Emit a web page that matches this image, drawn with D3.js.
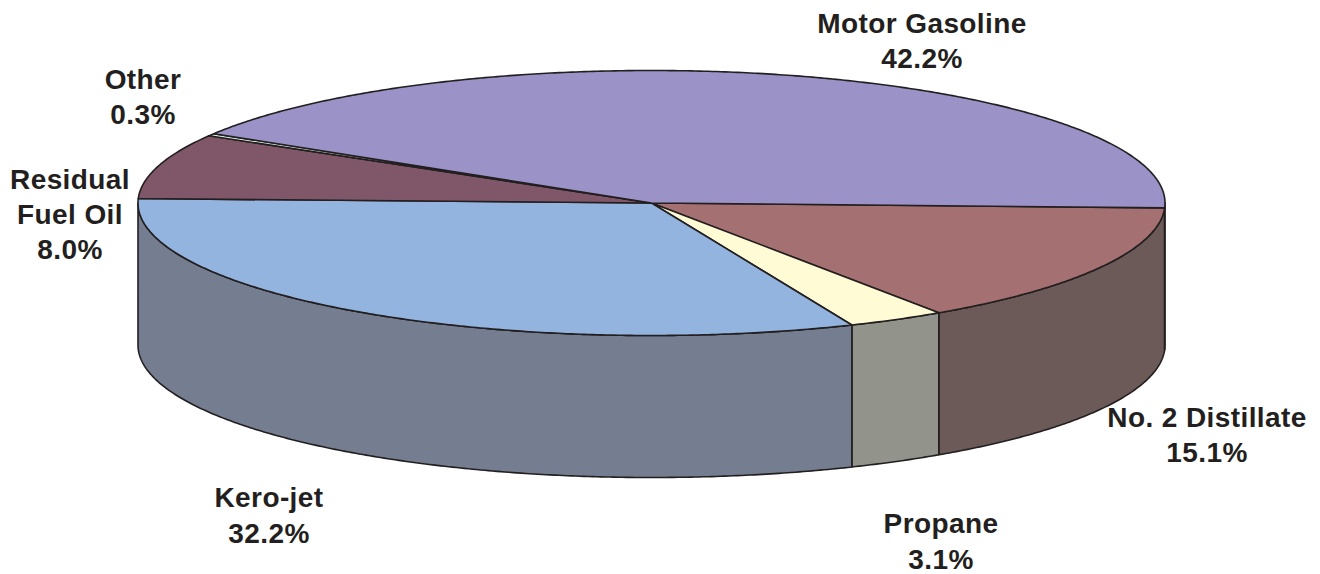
<!DOCTYPE html>
<html>
<head>
<meta charset="utf-8">
<script src="https://cdn.jsdelivr.net/npm/d3@7"></script>
<style>
  html, body { margin: 0; padding: 0; background: #fff; overflow: hidden; }
  text { font-family: "Liberation Sans", Arial, sans-serif; font-weight: bold; font-size: 28px; letter-spacing: 0.4px; fill: #231f20; text-anchor: middle; }
</style>
</head>
<body>
<div id="vis"></div>
<script>
// Values, in drawing order (clockwise from the right edge of the pie)
const CATEGORIES = ['No. 2 Distillate', 'Propane', 'Kero-jet', 'Residual Fuel Oil', 'Other', 'Motor Gasoline'];
const VALUES = [15.1, 3.1, 32.2, 8.0, 0.3, 42.2];
const VALUE_LABELS = ['15.1%', '3.1%', '32.2%', '8.0%', '0.3%', '42.2%'];
const LABEL_LINES = [['No. 2 Distillate'], ['Propane'], ['Kero-jet'], ['Residual', 'Fuel Oil'], ['Other'], ['Motor Gasoline']];

const TOP_COLORS = ['#a57072', '#fffbd5', '#93b4df', '#805768', '#d8f0dc', '#9b92c8'];
const SIDE_COLORS = ['#6c5a59', '#92938a', '#747e90', '#5a4450', '#a0aca0', '#6e688e'];

// Label placement: centre x and first baseline y
const LABEL_X = [1207, 941, 269, 70, 143, 922];
const LABEL_Y = [427, 533, 507, 189, 89, 33];
const LINE_HEIGHTS = [35, 36, 36, 35, 35, 35];

const WIDTH_VIS = 1320;
const HEIGHT_VIS = 574;
const CENTER = { x: 651.5, y: 203 };
const RADIUS = { x: 513.5, y: 132.5 };
const DEPTH = 142;
const START_ANGLE = Math.PI / 2 + (2.1 * Math.PI) / 180;

const SVG = d3.select('#vis').append('svg')
  .attr('width', WIDTH_VIS)
  .attr('height', HEIGHT_VIS);

const xScale = d3.scaleLinear().domain([-1, 1]).range([CENTER.x - RADIUS.x, CENTER.x + RADIUS.x]);
const yScale = d3.scaleLinear().domain([-1, 1]).range([CENTER.y - RADIUS.y, CENTER.y + RADIUS.y]);

const pie = d3.pie().sort(null).startAngle(START_ANGLE).endAngle(START_ANGLE + 2 * Math.PI);
const slices = pie(VALUES);

const line = d3.line().x((d) => d[0]).y((d) => d[1]);

// Points along the rim between two pie angles, pushed down by dy for the bottom edge
function rim(a0, a1, dy) {
  const steps = Math.max(2, Math.ceil(Math.abs(a1 - a0) * 120));
  return d3.range(steps + 1).map((i) => {
    const a = a0 + ((a1 - a0) * i) / steps;
    return [xScale(Math.sin(a)), yScale(-Math.cos(a)) + dy];
  });
}

// Only the front half of the rim shows a wall (pie angle 90deg to 270deg, and again one turn on)
function visibleRanges(slice) {
  const ranges = [];
  [0, 2 * Math.PI].forEach((turn) => {
    const a0 = Math.max(slice.startAngle, Math.PI / 2 + turn);
    const a1 = Math.min(slice.endAngle, (3 * Math.PI) / 2 + turn);
    if (a1 > a0) ranges.push([a0, a1]);
  });
  return ranges;
}

const walls = SVG.append('g');
slices.forEach((slice, i) => {
  visibleRanges(slice).forEach(([a0, a1]) => {
    const pts = rim(a0, a1, 0).concat(rim(a1, a0, DEPTH));
    walls.append('path')
      .attr('d', line(pts) + 'Z')
      .attr('fill', SIDE_COLORS[i])
      .attr('stroke', '#231f20')
      .attr('stroke-width', 1.6)
      .attr('stroke-linejoin', 'round');
  });
});

const tops = SVG.append('g');
slices.forEach((slice, i) => {
  const pts = [[xScale(0), yScale(0)]].concat(rim(slice.startAngle, slice.endAngle, 0));
  tops.append('path')
    .attr('d', line(pts) + 'Z')
    .attr('fill', TOP_COLORS[i])
    .attr('stroke', '#231f20')
    .attr('stroke-width', 1.6)
    .attr('stroke-linejoin', 'round');
});

// Labels
const labels = SVG.append('g');
CATEGORIES.forEach((name, i) => {
  const rows = LABEL_LINES[i].concat(VALUE_LABELS[i]);
  const label = labels.append('text').attr('aria-label', name);
  rows.forEach((row, j) => {
    label.append('tspan')
      .attr('x', LABEL_X[i])
      .attr('y', LABEL_Y[i] + j * LINE_HEIGHTS[i])
      .text(row);
  });
});
</script>
</body>
</html>
